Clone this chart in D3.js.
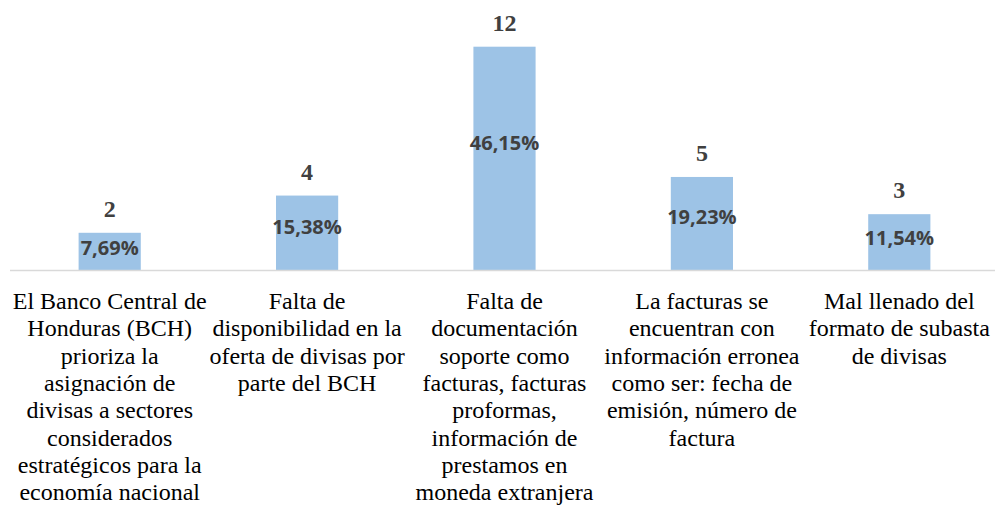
<!DOCTYPE html>
<html>
<head>
<meta charset="utf-8">
<script src="https://cdn.jsdelivr.net/npm/d3@7"></script>
<style>
	html, body { margin: 0; padding: 0; background: #fff; }
	svg { display: block; }
</style>
</head>
<body>
<div id="chart"></div>
<script>
const categories = [
	'El Banco Central de\nHonduras (BCH)\nprioriza la\nasignación de\ndivisas a sectores\nconsiderados\nestratégicos para la\neconomía nacional',
	'Falta de\ndisponibilidad en la\noferta de divisas por\nparte del BCH',
	'Falta de\ndocumentación\nsoporte como\nfacturas, facturas\nproformas,\ninformación de\nprestamos en\nmoneda extranjera',
	'La facturas se\nencuentran con\ninformación erronea\ncomo ser: fecha de\nemisión, número de\nfactura',
	'Mal llenado del\nformato de subasta\nde divisas'
];
const counts = [2, 4, 12, 5, 3];
const percents = ['7,69%', '15,38%', '46,15%', '19,23%', '11,54%'];

const width = 995, height = 506;
const baseline = 270;

const svg = d3.select('#chart')
	.append('svg')
	.attr('width', width)
	.attr('height', height);

const xScale = d3.scaleBand()
	.domain(categories)
	.range([11, 998])
	.paddingInner(0.685)
	.paddingOuter(0.3425);

const yScale = d3.scaleLinear()
	.domain([0, 12])
	.range([baseline, 46.7]);

// the percentage labels sit on their own (hidden) scale
const pctScale = d3.scaleLinear()
	.domain([0, 100])
	.range([269.3, -3.7]);

const data = categories.map((c, i) => ({
	cat: c,
	count: counts[i],
	pct: percents[i],
	pctValue: parseFloat(percents[i].replace(',', '.'))
}));

svg.selectAll('.bar')
	.data(data)
	.enter()
	.append('rect')
	.attr('class', 'bar')
	.attr('x', d => xScale(d.cat))
	.attr('y', d => yScale(d.count))
	.attr('width', xScale.bandwidth())
	.attr('height', d => baseline - yScale(d.count))
	.attr('fill', '#9dc3e6');

// axis line
const xAxis = svg.append('g')
	.attr('transform', `translate(0, ${baseline + 0.5})`)
	.call(d3.axisBottom(xScale).tickSize(0).tickFormat(''));
xAxis.select('.domain')
	.attr('d', 'M10,0H995')
	.attr('stroke', '#d9d9d9')
	.attr('stroke-width', 1.6);

svg.selectAll('.count')
	.data(data)
	.enter()
	.append('text')
	.attr('class', 'count')
	.attr('x', d => xScale(d.cat) + xScale.bandwidth() / 2)
	.attr('y', d => yScale(d.count) - 16)
	.attr('text-anchor', 'middle')
	.style('font-family', '"Liberation Serif", "Times New Roman", serif')
	.style('font-weight', 'bold')
	.style('font-size', '24px')
	.attr('fill', '#404040')
	.text(d => d.count);

svg.selectAll('.pct')
	.data(data)
	.enter()
	.append('text')
	.attr('class', 'pct')
	.attr('x', d => xScale(d.cat) + xScale.bandwidth() / 2)
	.attr('y', d => pctScale(d.pctValue))
	.attr('dy', '0.35em')
	.attr('text-anchor', 'middle')
	.style('font-family', '"Open Sans", sans-serif')
	.style('font-weight', 'bold')
	.style('font-size', '20px')
	.attr('fill', '#404040')
	.text(d => d.pct);

const labels = svg.selectAll('.cat-label')
	.data(data)
	.enter()
	.append('text')
	.attr('class', 'cat-label')
	.attr('text-anchor', 'middle')
	.style('font-family', '"Liberation Serif", "Times New Roman", serif')
	.style('font-size', '24px')
	.attr('fill', '#000');

labels.selectAll('tspan')
	.data(d => d.cat.split('\n').map(line => ({line, x: xScale(d.cat) + xScale.bandwidth() / 2})))
	.enter()
	.append('tspan')
	.attr('x', d => d.x)
	.attr('y', (d, i) => 309 + i * 27.3)
	.text(d => d.line);
</script>
</body>
</html>
